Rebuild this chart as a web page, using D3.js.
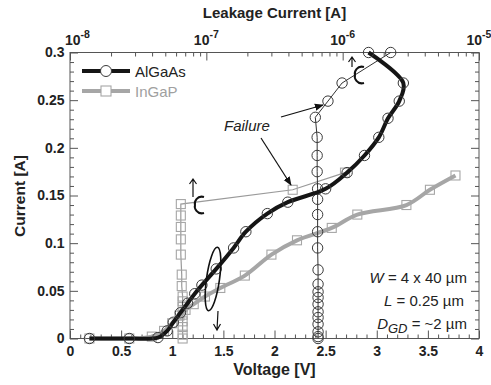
<!DOCTYPE html>
<html><head><meta charset="utf-8">
<script src="https://cdn.jsdelivr.net/npm/d3@7"></script>
<style>
html,body{margin:0;padding:0;background:#fff;}
svg{display:block;font-family:"Liberation Sans",Arial,sans-serif;}
</style></head><body>
<svg id="c" width="491" height="385"></svg>
<script>
// ---- data ----
const algaasV = [0.19,0.58,0.86,0.95,1.01,1.08,1.15,1.22,1.29,1.43,1.60,1.72,1.93,2.13,2.50,2.71,2.88,3.02,3.11,3.22,3.26,2.92];
const algaasI = [0,0,0.001,0.008,0.017,0.027,0.037,0.047,0.056,0.073,0.095,0.112,0.131,0.143,0.157,0.174,0.192,0.211,0.231,0.249,0.268,0.300];
const ingapV = [0.19,0.58,0.80,0.92,1.00,1.07,1.13,1.21,1.32,1.47,1.71,1.97,2.22,2.56,2.81,3.29,3.52,3.77];
const ingapI = [0,0,0.002,0.008,0.016,0.024,0.030,0.036,0.044,0.053,0.066,0.088,0.103,0.116,0.130,0.140,0.156,0.171];
const algaasLeakA = [6.6e-7,6.6e-7,6.6e-7,6.6e-7,6.6e-7,6.6e-7,6.6e-7,6.6e-7,6.6e-7,6.6e-7,6.6e-7,6.55e-7,6.55e-7,6.55e-7,6.55e-7,6.55e-7,6.5e-7,6.5e-7,6.5e-7,6.3e-7,7.8e-7,9.9e-7,2.25e-6];
const algaasLeakI = [0,0.002,0.007,0.015,0.022,0.028,0.036,0.043,0.049,0.057,0.072,0.095,0.112,0.130,0.146,0.157,0.175,0.192,0.211,0.232,0.249,0.268,0.300];
const ingapLeakA = [6.7e-8,6.7e-8,6.7e-8,6.7e-8,6.7e-8,6.7e-8,6.7e-8,6.7e-8,6.6e-8,6.6e-8,6.5e-8,6.5e-8,6.5e-8,6.5e-8,6.5e-8,4.3e-7,1.04e-6];
const ingapLeakI = [0,0.004,0.012,0.018,0.025,0.033,0.039,0.044,0.055,0.067,0.088,0.104,0.117,0.129,0.141,0.156,0.174];
const xTickLabels = ["0","0.5","1","1.5","2","2.5","3","3.5","4"];
const yTickLabels = ["0","0.05","0.1","0.15","0.2","0.25","0.3"];
const topTickExps = ["-8","-7","-6","-5"];
const seriesNames = ["AlGaAs","InGaP"];
const notes = ["W","L","D"];

// ---- scales ----
const L=70, R=479, T=52.5, B=338.5;
const x = d3.scaleLinear().domain([0,4]).range([L,R]);
const y = d3.scaleLinear().domain([0,0.3]).range([B,T]);
const xt = d3.scaleLog().domain([1e-8,1e-5]).range([L,R]);

const svg = d3.select("#c");
const tickCol = "#555", textCol = "#222";
const black = "#151515", gray = "#a6a6a6", grayThin = "#9a9a9a", circCol = "#3a3a3a";

// frame
svg.append("rect").attr("x",L).attr("y",T).attr("width",R-L).attr("height",B-T)
  .attr("fill","none").attr("stroke",tickCol).attr("stroke-width",1);

function styleAxis(g){
  g.select(".domain").remove();
  g.selectAll(".tick line").attr("stroke",tickCol);
  g.selectAll("text").attr("fill",textCol).attr("font-size",14).attr("font-weight","bold")
   .attr("font-family","'Liberation Sans',Arial,sans-serif");
}
const xMajor = d3.range(0,4.001,0.5);
const xMinor = d3.range(0,4.001,0.1).filter(v=>Math.abs(v*2-Math.round(v*2))>1e-6);
const yMajor = d3.range(0,0.3001,0.05);
const yMinor = d3.range(0,0.3001,0.01).filter(v=>Math.abs(v*20-Math.round(v*20))>1e-6);

svg.append("g").attr("transform",`translate(0,${B})`)
  .call(d3.axisBottom(x).tickValues(xMajor).tickSize(-8).tickPadding(7.5).tickFormat((d,i)=>xTickLabels[i])).call(styleAxis);
svg.append("g").attr("transform",`translate(0,${B})`)
  .call(d3.axisBottom(x).tickValues(xMinor).tickSize(-4).tickFormat("")).call(styleAxis);
svg.append("g").attr("transform",`translate(${L},0)`)
  .call(d3.axisLeft(y).tickValues(yMajor).tickSize(-8).tickPadding(5.5).tickFormat((d,i)=>yTickLabels[i])).call(styleAxis);
svg.append("g").attr("transform",`translate(${L},0)`)
  .call(d3.axisLeft(y).tickValues(yMinor).tickSize(-4).tickFormat("")).call(styleAxis);
svg.append("g").attr("transform",`translate(${R},0)`)
  .call(d3.axisRight(y).tickValues(yMajor).tickSize(-8).tickFormat("")).call(styleAxis);
svg.append("g").attr("transform",`translate(${R},0)`)
  .call(d3.axisRight(y).tickValues(yMinor).tickSize(-4).tickFormat("")).call(styleAxis);

const topMajor = [1e-8,1e-7,1e-6,1e-5];
const topMinor = [];
[1e-8,1e-7,1e-6].forEach(d=>{for(let k=2;k<=9;k++) topMinor.push(d*k);});
svg.append("g").attr("transform",`translate(0,${T})`)
  .call(d3.axisTop(xt).tickValues(topMajor).tickSize(-8).tickFormat("")).call(styleAxis);
svg.append("g").attr("transform",`translate(0,${T})`)
  .call(d3.axisTop(xt).tickValues(topMinor).tickSize(-4).tickFormat("")).call(styleAxis);
topMajor.forEach((v,i)=>{
  const first = i===0;
  const t = svg.append("text").attr("x",first ? xt(v)-5 : xt(v)).attr("y",44.5)
    .attr("text-anchor",first ? "start" : "middle")
    .attr("font-size",14).attr("font-weight","bold").attr("fill",textCol);
  t.append("tspan").text("10");
  t.append("tspan").attr("dy",-7).attr("font-size",10.5).text(topTickExps[i]);
});

// axis titles
svg.append("text").attr("x",274.5).attr("y",18).attr("text-anchor","middle")
  .attr("font-size",15).attr("font-weight","bold").attr("fill",textCol).text("Leakage Current [A]");
svg.append("text").attr("x",274.5).attr("y",375).attr("text-anchor","middle")
  .attr("font-size",16).attr("font-weight","bold").attr("fill",textCol).text("Voltage [V]");
svg.append("text").attr("transform","translate(25,196) rotate(-90)").attr("text-anchor","middle")
  .attr("font-size",15.5).attr("font-weight","bold").attr("fill",textCol).text("Current [A]");

// ---- series ----
const algaas = algaasV.map((v,i)=>[v,algaasI[i]]);
const ingap = ingapV.map((v,i)=>[v,ingapI[i]]);
const algaasLeak = algaasLeakA.map((a,i)=>[a,algaasLeakI[i]]);
const ingapLeak = ingapLeakA.map((a,i)=>[a,ingapLeakI[i]]);

const lineIV = d3.line().x(d=>x(d[0])).y(d=>y(d[1])).curve(d3.curveCatmullRom.alpha(0.5));
const lineLk = d3.line().x(d=>xt(d[0])).y(d=>y(d[1]));

function squares(data, sx, col){
  svg.append("g").selectAll("rect").data(data).join("rect")
    .attr("x",d=>sx(d[0])-4.5).attr("y",d=>y(d[1])-4.5).attr("width",9).attr("height",9)
    .attr("fill","none").attr("stroke",col).attr("stroke-width",1.1);
}
function circles(data, sx, col){
  svg.append("g").selectAll("circle").data(data).join("circle")
    .attr("cx",d=>sx(d[0])).attr("cy",d=>y(d[1])).attr("r",5.2)
    .attr("fill","none").attr("stroke",col).attr("stroke-width",1);
}

// InGaP leakage (thin gray)
svg.append("path").datum(ingapLeak).attr("d",lineLk).attr("fill","none").attr("stroke",grayThin).attr("stroke-width",1.2);
squares(ingapLeak, xt, gray);
// InGaP IV (thick gray)
svg.append("path").datum(ingap).attr("d",lineIV).attr("fill","none").attr("stroke",gray).attr("stroke-width",4);
squares(ingap, x, gray);
// AlGaAs leakage (thin black)
svg.append("path").datum(algaasLeak).attr("d",lineLk).attr("fill","none").attr("stroke","#333").attr("stroke-width",1);
circles(algaasLeak, xt, circCol);
// AlGaAs IV (thick black)
svg.append("path").datum(algaas).attr("d",lineIV).attr("fill","none").attr("stroke",black).attr("stroke-width",4);
circles(algaas, x, circCol);

// ---- legend ----
const lg = svg.append("g");
lg.append("line").attr("x1",82).attr("x2",130).attr("y1",71).attr("y2",71).attr("stroke",black).attr("stroke-width",4);
lg.append("circle").attr("cx",106).attr("cy",71).attr("r",5.5).attr("fill","#fff").attr("stroke",circCol).attr("stroke-width",1);
lg.append("text").attr("x",135).attr("y",77).attr("font-size",15).attr("fill",textCol).text(seriesNames[0]);
lg.append("line").attr("x1",82).attr("x2",130).attr("y1",91).attr("y2",91).attr("stroke",gray).attr("stroke-width",4);
lg.append("rect").attr("x",101).attr("y",86).attr("width",10).attr("height",10).attr("fill","#fff").attr("stroke",gray).attr("stroke-width",1.1);
lg.append("text").attr("x",135).attr("y",97).attr("font-size",15).attr("fill","#a0a0a0").text(seriesNames[1]);

// ---- annotations ----
const defs = svg.append("defs");
defs.append("marker").attr("id","ah").attr("viewBox","0 0 10 10").attr("refX",9).attr("refY",5)
  .attr("markerWidth",9).attr("markerHeight",9).attr("orient","auto").attr("markerUnits","userSpaceOnUse")
  .append("path").attr("d","M0,1 L10,5 L0,9 Z").attr("fill","#111");
svg.append("text").attr("x",224).attr("y",131).attr("font-size",15).attr("font-style","italic").attr("fill",textCol).text("Failure");
svg.append("line").attr("x1",281).attr("y1",117).attr("x2",323).attr("y2",105).attr("stroke","#111").attr("stroke-width",1.2).attr("marker-end","url(#ah)");
svg.append("line").attr("x1",261).attr("y1",138).attr("x2",291).attr("y2",185).attr("stroke","#111").attr("stroke-width",1.2).attr("marker-end","url(#ah)");

function curlyUp(cx, cy, ax, ay1, ay2){
  svg.append("path").attr("d",`M${cx+5},${cy-8} C${cx-2},${cy-10} ${cx-5},${cy-3} ${cx-4},${cy} C${cx-5},${cy+3} ${cx-2},${cy+10} ${cx+5},${cy+8}`)
    .attr("fill","none").attr("stroke","#111").attr("stroke-width",2);
  svg.append("path").attr("d",`M${ax},${ay1} L${ax},${ay2} M${ax-3.5},${ay2+5} L${ax},${ay2} L${ax+3.5},${ay2+5}`)
    .attr("fill","none").attr("stroke","#111").attr("stroke-width",1.2);
}
curlyUp(199,205,193,197,179);
curlyUp(359,75,352,67,57);

// loop + down arrow (left axis indicator)
svg.append("ellipse").attr("cx",0).attr("cy",0).attr("rx",6.5).attr("ry",32)
  .attr("transform","translate(213,279) rotate(8)").attr("fill","none").attr("stroke","#111").attr("stroke-width",1.6);
svg.append("path").attr("d","M218,311 L217,330 M213.5,324 L217,330 L220.5,324")
  .attr("fill","none").attr("stroke","#111").attr("stroke-width",1.2);

// device notes
const nt = svg.append("g").attr("font-size",15).attr("fill",textCol).attr("text-anchor","end");
const t1 = nt.append("text").attr("x",467).attr("y",283);
t1.append("tspan").attr("font-style","italic").text(notes[0]);
t1.append("tspan").text(" = 4 x 40 \u00b5m");
const t2 = nt.append("text").attr("x",464).attr("y",306);
t2.append("tspan").attr("font-style","italic").text(notes[1]);
t2.append("tspan").text(" = 0.25 \u00b5m");
const t3 = nt.append("text").attr("x",467).attr("y",329);
t3.append("tspan").attr("font-style","italic").text(notes[2]);
t3.append("tspan").attr("font-style","italic").attr("font-size",13).attr("dy",4).text("GD");
t3.append("tspan").attr("dy",-4).text(" = ~2 \u00b5m");
</script>
</body></html>
